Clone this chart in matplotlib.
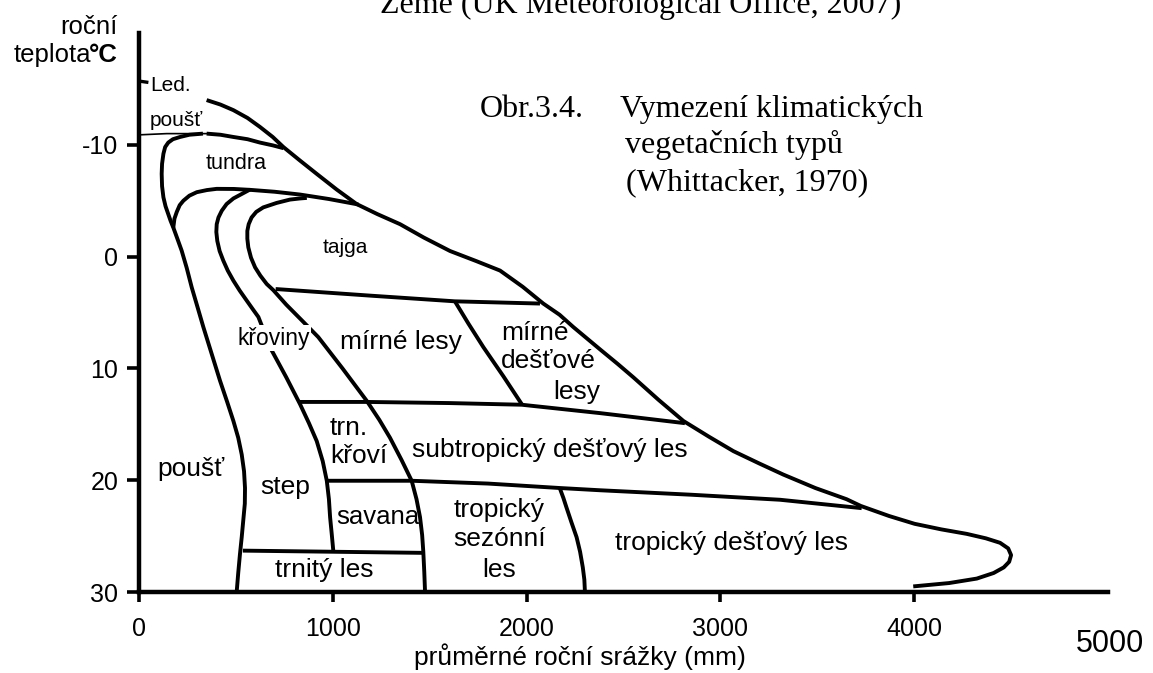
import matplotlib
matplotlib.use("Agg")
import matplotlib.pyplot as plt

plt.rcParams["font.family"] = ["Liberation Sans", "DejaVu Sans"]

# boundaries: (precipitation mm, temperature degC)
outer_x = [349, 420, 487, 560, 624, 690, 745, 830, 917, 1020, 1123, 1230, 1347, 1470, 1605, 1740,
           1863, 1980, 2086, 2170, 2241, 2310, 2379, 2470, 2551, 2680, 2809, 2940, 3067, 3200,
           3325, 3490, 3651, 3724, 3870, 4002, 4140, 4271, 4370, 4443, 4485, 4500, 4490, 4462,
           4410, 4323, 4180, 3995]
outer_y = [-14.0, -13.6, -13.1, -12.4, -11.6, -10.7, -9.8, -8.6, -7.4, -6.0, -4.7, -3.8, -2.9,
           -1.7, -0.5, 0.4, 1.25, 2.7, 4.2, 5.2, 6.3, 7.3, 8.3, 9.6, 10.8, 12.8, 14.7, 16.1, 17.4,
           18.5, 19.5, 20.7, 21.7, 22.3, 23.2, 23.9, 24.4, 24.8, 25.2, 25.6, 26.1, 26.7, 27.3,
           27.8, 28.3, 28.8, 29.2, 29.5]

ice_thin_x = [14, 143, 349]
ice_thin_y = [-10.9, -11.0, -11.0]
ice_x = [349, 420, 487, 560, 624, 690, 745]
ice_y = [-11.0, -10.9, -10.7, -10.5, -10.2, -9.95, -9.7]

desert_x = [330, 260, 212, 175, 151, 135, 126, 119, 117, 119, 126, 137, 151, 163, 177, 198, 220,
            246, 272, 300, 332, 375, 418, 455, 487, 512, 530, 542, 547, 546, 538, 530, 521, 512, 504]
desert_y = [-11.0, -10.9, -10.7, -10.5, -10.2, -9.8, -9.2, -8.3, -7.4, -6.3, -5.3, -4.5, -3.8,
            -3.2, -2.6, -1.6, -0.54, 1.0, 2.75, 4.4, 6.3, 8.7, 11.1, 13.0, 14.7, 16.2, 17.7, 19.2,
            20.7, 22.1, 23.6, 25.1, 26.6, 28.3, 30.0]

tundra_x = [177, 183, 195, 210, 229, 260, 298, 350, 401, 490, 573, 700, 831, 980, 1132]
tundra_y = [-2.6, -3.4, -4.0, -4.6, -5.0, -5.45, -5.76, -5.95, -6.06, -6.05, -5.97, -5.8, -5.55,
            -5.15, -4.66]

step_x = [573, 530, 487, 452, 427, 410, 401, 399, 404, 416, 435, 458, 487, 520, 556, 587, 616,
          650, 685, 760, 831, 877, 917, 948, 969, 980, 986, 995, 1003]
step_y = [-6.0, -5.6, -5.2, -4.7, -4.1, -3.5, -2.9, -2.2, -1.4, -0.5, 0.36, 1.25, 2.15, 3.05,
          3.94, 4.7, 5.4, 6.9, 8.4, 10.8, 13.2, 14.9, 16.5, 18.3, 20.05, 21.7, 23.3, 24.9, 26.4]

shrub_x = [866, 830, 779, 710, 641, 605, 581, 566, 559, 559, 564, 578, 599, 626, 659, 693, 760,
           840, 925, 1050, 1175, 1240, 1295, 1355, 1407, 1432, 1450, 1461, 1467, 1472, 1476]
shrub_y = [-5.25, -5.2, -5.1, -4.8, -4.4, -4.0, -3.5, -2.9, -2.3, -1.6, -0.83, 0.1, 0.96, 1.7,
           2.45, 3.0, 4.3, 5.7, 7.2, 10.0, 12.9, 14.6, 16.2, 18.2, 20.05, 21.7, 23.3, 24.9, 26.4,
           28.2, 30.0]

taiga_x = [705, 1200, 1630, 2069]
taiga_y = [2.9, 3.5, 4.0, 4.2]

temp_div_x = [1630, 1700, 1777, 1880, 1975]
temp_div_y = [4.0, 6.0, 8.1, 10.7, 13.2]

subtrop_top_x = [822, 1175, 1600, 1975, 2379, 2817]
subtrop_top_y = [13.0, 13.0, 13.1, 13.25, 14.0, 14.9]

subtrop_bot_x = [969, 1407, 1800, 2172, 2379, 2850, 3308, 3729]
subtrop_bot_y = [20.05, 20.05, 20.3, 20.7, 20.9, 21.3, 21.75, 22.5]

trop_div_x = [2172, 2190, 2205, 2232, 2258, 2276, 2290, 2298, 2301]
trop_div_y = [20.75, 21.6, 22.4, 23.8, 25.1, 26.4, 27.8, 28.9, 30.0]

thorn_x = [536, 1003, 1470]
thorn_y = [26.3, 26.4, 26.5]

labels = [
    ("tundra", 499, -8.3, 15.5),
    ("tajga", 1063, -0.8, 15),
    ("mírné lesy", 1350, 7.6, 19),
    ("mírné", 2043, 6.8, 19),
    ("dešťové", 2112, 9.3, 19),
    ("lesy", 2258, 12.1, 19),
    ("poušť", 267, 19.0, 19),
    ("step", 753, 20.65, 19),
    ("savana", 1231, 23.3, 18.5),
    ("tropický", 1860, 22.7, 19),
    ("sezónní", 1860, 25.3, 19),
    ("les", 1860, 28.0, 19),
    ("trnitý les", 958, 28.0, 19),
    ("tropický dešťový les", 3055, 25.6, 19),
]

W, H = 1153, 673
fig = plt.figure(figsize=(W / 100, H / 100), dpi=100)
ax = fig.add_axes([139 / W, 81 / H, 969 / W, 559 / H])

lw = 2.8
for xs, ys in [(outer_x, outer_y), (ice_x, ice_y), (desert_x, desert_y), (tundra_x, tundra_y),
               (step_x, step_y), (shrub_x, shrub_y), (taiga_x, taiga_y), (temp_div_x, temp_div_y),
               (subtrop_top_x, subtrop_top_y), (subtrop_bot_x, subtrop_bot_y),
               (trop_div_x, trop_div_y), (thorn_x, thorn_y)]:
    ax.plot(xs, ys, color="black", lw=lw, solid_joinstyle="round", solid_capstyle="butt")
ax.plot(ice_thin_x, ice_thin_y, color="black", lw=1.2)
ax.plot([0, 40], [-15.7, -15.6], color="black", lw=2.4)

for txt, x, y, fs in labels:
    ax.text(x, y, txt, fontsize=fs, ha="center", va="center")

# labels that sit on top of lines
ax.text(693, 7.3, "křoviny", fontsize=16.5, ha="center", va="center",
        bbox=dict(facecolor="white", edgecolor="none", pad=1))
ax.text(57, -15.3, "Led.", fontsize=15, ha="left", va="center")
ax.text(57, -12.2, "poušť", fontsize=15, ha="left", va="center")
ax.text(986, 15.3, "trn.", fontsize=19, ha="left", va="center")
ax.text(986, 17.8, "křoví", fontsize=19, ha="left", va="center")
ax.text(1409, 17.3, "subtropický dešťový les", fontsize=19, ha="left", va="center")

ax.set_xlim(0, 5000)
ax.set_ylim(30, -20)
ax.set_xticks([0, 1000, 2000, 3000, 4000])
ax.set_yticks([-10, 0, 10, 20, 30])
ax.set_yticklabels(["-10", "0", "10", "20", "30"])
ax.tick_params(axis="x", length=7, width=2.6, labelsize=18, pad=11)
ax.tick_params(axis="y", length=9, width=2.6, labelsize=18, pad=6)
for s in ["top", "right"]:
    ax.spines[s].set_visible(False)
for s in ["left", "bottom"]:
    ax.spines[s].set_linewidth(3.2)

fig.text(1110 / W, 1 - 644 / H, "5000", fontsize=22, ha="center", va="center")
fig.text(580 / W, 1 - 665 / H, "průměrné roční srážky (mm)", fontsize=19, ha="center", va="baseline")
fig.text(118 / W, 1 - 27 / H, "roční", fontsize=18.5, ha="right", va="center")
fig.text(118 / W, 1 - 55 / H, "°C", fontsize=18.5, ha="right", va="center", fontweight="bold")
fig.text(91 / W, 1 - 55 / H, "teplota", fontsize=18.5, ha="right", va="center")

serif = ["Liberation Serif", "DejaVu Serif"]
fig.text(380 / W, 1 - 13 / H, "Země (UK Meteorological Office, 2007)", fontsize=23,
         ha="left", va="baseline", family=serif)
fig.text(480 / W, 1 - 117 / H, "Obr.3.4.", fontsize=23, ha="left", va="baseline", family=serif)
fig.text(620 / W, 1 - 117 / H, "Vymezení klimatických", fontsize=23, ha="left", va="baseline", family=serif)
fig.text(625 / W, 1 - 153 / H, "vegetačních typů", fontsize=23, ha="left", va="baseline", family=serif)
fig.text(626 / W, 1 - 190 / H, "(Whittacker, 1970)", fontsize=23, ha="left", va="baseline", family=serif)

fig.savefig("out.png", dpi=100)
